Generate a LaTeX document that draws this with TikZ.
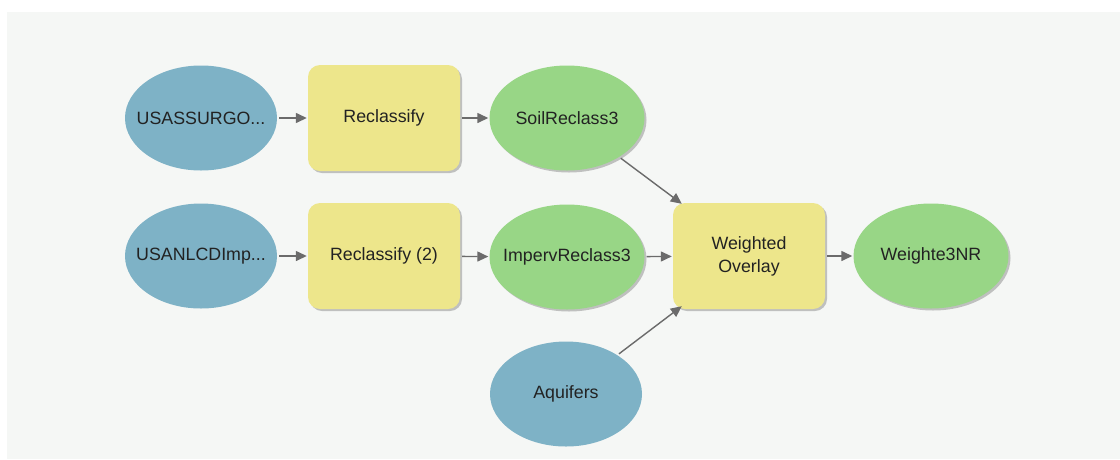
\documentclass[tikz,border=0pt]{standalone}
\usepackage{fontspec}
\setmainfont{Liberation Sans}
\usetikzlibrary{shapes.geometric,arrows.meta,shadows}
\definecolor{bg}{HTML}{F5F7F5}
\definecolor{inblue}{HTML}{7EB2C6}
\definecolor{toolyel}{HTML}{EDE68B}
\definecolor{outgrn}{HTML}{98D686}
\definecolor{arr}{HTML}{6B6B6B}
\definecolor{txt}{HTML}{222222}
\newcommand{\zw}[1]{\makebox[0pt]{#1}}
\begin{document}
\begin{tikzpicture}[x=1pt,y=-1pt,
  every node/.style={font=\fontsize{17.8}{23}\selectfont, text=txt},
  sh/.style={drop shadow={shadow xshift=2pt, shadow yshift=-2pt, fill=black, opacity=0.22}},
  inp/.style={ellipse, fill=inblue, minimum width=152pt, minimum height=105pt, inner sep=0pt},
  tool/.style={rectangle, rounded corners=12pt, fill=toolyel, minimum width=152pt, minimum height=106pt, inner sep=0pt, align=center, sh},
  outp/.style={ellipse, fill=outgrn, minimum width=155pt, minimum height=105pt, inner sep=0pt, sh},
  conn/.style={draw=arr, line width=1.4pt, -{Triangle[length=11pt,width=10pt]}, shorten <=2pt, shorten >=1pt}
]
\fill[white] (0,0) rectangle (1120,459);
\fill[bg] (7,12) rectangle (1120,459);
\useasboundingbox (0,0) rectangle (1120,459);

\node[inp]  (A) at (201,118) {\zw{USASSURGO...}};
\node[tool] (B) at (384,118) {Reclassify};
\node[outp] (C) at (567,118) {\zw{SoilReclass3}};

\node[inp]  (D) at (201,256) {\zw{USANLCDImp...}};
\node[tool] (E) at (384,256) {Reclassify (2)};
\node[outp] (F) at (567,257) {\zw{ImpervReclass3}};

\node[tool] (W) at (749,256) {Weighted\\Overlay};
\node[outp] (R) at (931,256) {\zw{Weighte3NR}};

\node[inp]  (Q) at (566,394) {\zw{Aquifers}};

\coordinate (w-in1) at ([xshift=9pt,yshift=-1pt]W.north west);
\coordinate (w-in3) at ([xshift=9pt,yshift=3pt]W.south west);

\draw[conn] (A) -- (B);
\draw[conn] (B) -- (C);
\draw[conn] (D) -- (E);
\draw[conn] (E) -- (F);
\draw[conn] (F) -- (W);
\draw[conn] (W) -- (R);
\draw[conn, shorten >=0pt] (C) -- (w-in1);
\draw[conn, shorten >=0pt] (Q) -- (w-in3);
\end{tikzpicture}
\end{document}
